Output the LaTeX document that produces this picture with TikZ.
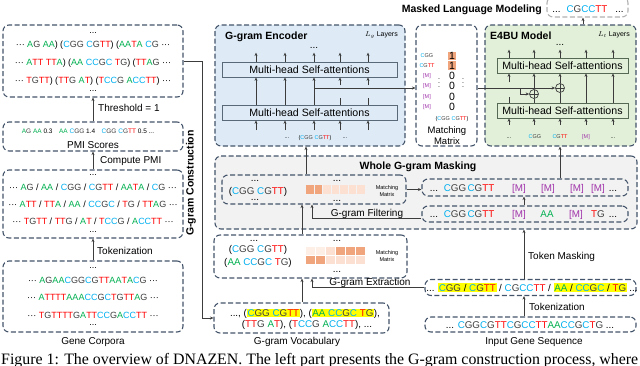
\documentclass[tikz,border=0pt]{standalone}
\usepackage{fontspec}
\setmainfont{Liberation Sans}
\newfontfamily\capfont{Liberation Serif}
\usepackage{graphicx}
\usetikzlibrary{arrows.meta,positioning,calc}

\definecolor{BoxLine}{RGB}{68,84,106}
\definecolor{ArrLine}{RGB}{60,60,60}
\definecolor{EncFill}{RGB}{222,235,247}
\definecolor{EncLine}{RGB}{90,105,120}
\definecolor{EfbFill}{RGB}{226,240,217}
\definecolor{EfbLine}{RGB}{85,105,85}
\definecolor{MaskFill}{RGB}{242,242,242}
\definecolor{NucA}{RGB}{0,176,80}
\definecolor{NucC}{RGB}{0,176,240}
\definecolor{NucG}{RGB}{64,64,64}
\definecolor{NucT}{RGB}{255,0,0}
\definecolor{MaskTok}{RGB}{160,50,170}
\definecolor{MatDark}{RGB}{240,165,125}
\definecolor{MatLight}{RGB}{252,225,210}
\definecolor{MatPale}{RGB}{253,238,230}
\definecolor{HlYellow}{RGB}{255,255,0}

\makeatletter
\newcommand{\seqc}[1]{\seqc@loop#1\@nil}
\def\seqc@loop#1{\ifx#1\@nil\else\seqc@one#1\expandafter\seqc@loop\fi}
\def\seqc@one#1{\ifx#1A\textcolor{NucA}{A}\else\ifx#1C\textcolor{NucC}{C}\else\ifx#1T\textcolor{NucT}{T}\else\ifx#1G\textcolor{NucG}{G}\else#1\fi\fi\fi\fi}
\makeatother
\newcommand{\middots}{\textperiodcentered\textperiodcentered\textperiodcentered}
\newcommand{\mtok}{\textcolor{MaskTok}{[M]}}
\newcommand{\yhl}[1]{{\setlength{\fboxsep}{0.6pt}\colorbox{HlYellow}{#1}}}

\begin{document}
\begin{tikzpicture}[x=1pt, y=-1pt,
    gbox/.style={draw=BoxLine, line width=1.1pt, dash pattern=on 5pt off 2.5pt,
        rounded corners=6pt, fill=white, inner sep=0pt},
    mhsa/.style={line width=0.8pt, inner sep=0pt, minimum height=15pt,
        font=\fontsize{10.6}{12}\selectfont},
    arr/.style={draw=ArrLine, line width=0.8pt, -{Stealth[length=3.5pt,width=3pt]}},
    ln/.style={draw=ArrLine, line width=0.8pt},
    addop/.style={circle, draw=ArrLine, line width=0.7pt, fill=EfbFill, minimum size=9pt, inner sep=0pt,
        path picture={\draw[ArrLine, line width=0.6pt] (path picture bounding box.north) -- (path picture bounding box.south)
            (path picture bounding box.west) -- (path picture bounding box.east);}},
    sq/.style={font=\fontsize{9}{10}\selectfont, anchor=base, inner sep=0pt},
    lbl/.style={font=\fontsize{10}{12}\selectfont, anchor=base, inner sep=0pt},
    ttl/.style={font=\fontsize{10.5}{12}\selectfont\bfseries, anchor=base, inner sep=0pt},
    tny/.style={font=\fontsize{5.5}{6}\selectfont, anchor=base, inner sep=0pt},
    tok/.style={font=\fontsize{9.8}{11}\selectfont, anchor=base, inner sep=0pt},
    num/.style={font=\fontsize{10.5}{12}\selectfont, inner sep=0.4pt, text height=7.4pt,
        text depth=0pt, minimum width=8pt},
]
\useasboundingbox (0,0) rectangle (640,365);

% ---- left: G-gram construction
\node[gbox, minimum width=180pt, minimum height=72pt] (gramTok) at (93,61) {};
\node[sq] (gt0) at (93,33) {...};
\node[sq] (gt1) at (93,47) {\middots{} \seqc{AG} \seqc{AA}) (\seqc{CGG} \seqc{CGTT}) (\seqc{AATA} \seqc{CG} \middots};
\node[sq] (gt2) at (93,65) {\middots{} \seqc{ATT} \seqc{TTA}) (\seqc{AA} \seqc{CCGC} \seqc{TG}) (\seqc{TTAG} \middots};
\node[sq] (gt3) at (93,83) {\middots{} \seqc{TGTT}) (\seqc{TTG} \seqc{AT}) (\seqc{TCCG} \seqc{ACCTT}) \middots};
\node[sq] (gt4) at (93,91) {...};

\node[gbox, minimum width=180pt, minimum height=29pt] (pmiBox) at (93,136.5) {};
\node[font=\fontsize{6.5}{7}\selectfont, anchor=base, inner sep=0pt] (pmiVals) at (88,133.5)
    {\seqc{AG} \seqc{AA} 0.3\quad \seqc{AA} \seqc{CGG} 1.4\quad \seqc{CGG} \seqc{CGTT} 0.5 ...};
\node[lbl] (pmiName) at (93,148.5) {PMI Scores};
\draw[arr] (pmiBox.north) -- (gramTok.south);
\node[lbl, anchor=base west] (thrTxt) at (98,111.5) {Threshold = 1};

\node[gbox, minimum width=180pt, minimum height=68pt] (corpTok) at (93,204) {};
\node[sq] (ct0) at (93,175) {...};
\node[sq] (ct1) at (93,190) {\middots{} \seqc{AG} / \seqc{AA} / \seqc{CGG} / \seqc{CGTT} / \seqc{AATA} / \seqc{CG} \middots};
\node[sq] (ct2) at (93,207) {\middots{} \seqc{ATT} / \seqc{TTA} / \seqc{AA} / \seqc{CCGC} / \seqc{TG} / \seqc{TTAG} \middots};
\node[sq] (ct3) at (93,224) {\middots{} \seqc{TGTT} / \seqc{TTG} / \seqc{AT} / \seqc{TCCG} / \seqc{ACCTT} \middots};
\node[sq] (ct4) at (93,232) {...};
\draw[arr] (corpTok.north) -- (pmiBox.south);
\node[lbl, anchor=base west] (pmiTxt) at (100,163.5) {Compute PMI};

\node[gbox, minimum width=180pt, minimum height=71pt] (corpus) at (93,296.5) {};
\node[sq] (cp0) at (93,268) {...};
\node[sq] (cp1) at (93,283) {\middots{} \seqc{AGAACGGCGTTAATACG} \middots};
\node[sq] (cp2) at (93,300) {\middots{} \seqc{ATTTTAAACCGCTGTTAG} \middots};
\node[sq] (cp3) at (93,318) {\middots{} \seqc{TGTTTTGATTCCGACCTT} \middots};
\node[sq] (cp4) at (93,325) {...};
\draw[arr] (corpus.north) -- (corpTok.south);
\node[lbl, anchor=base west] (tokTxtL) at (97,254.5) {Tokenization};
\node[lbl] (corpName) at (93,344.5) {Gene Corpora};

\node[ttl, anchor=center, rotate=90] (gcName) at (191,183) {G-gram Construction};

% ---- G-gram encoder
\node[gbox, fill=EncFill, minimum width=190pt, minimum height=121pt] (encBox) at (310,85.5) {};
\node[ttl, anchor=base west] (encName) at (225,39) {G-gram Encoder};
\node[font=\fontsize{7}{8}\selectfont, anchor=base east, inner sep=0pt] (encLay) at (398,36.5) {$L_g$ Layers};
\node[mhsa, draw=EncLine, fill=EncFill, minimum width=175pt] (encUp) at (309.5,69.5) {Multi-head Self-attentions};
\node[mhsa, draw=EncLine, fill=EncFill, minimum width=175pt] (encLow) at (309.5,112.5) {Multi-head Self-attentions};
\node[lbl] (encDots) at (314,48) {...};
\foreach \cx [count=\i] in {256,285,314,340,368}{
    \coordinate (ec\i) at (\cx,130);
    \draw[arr] (ec\i) -- (ec\i |- encLow.south);
    \draw[arr] (ec\i |- encUp.north) -- ++(0,-9);
}
\foreach \i in {1,2,3} \draw[arr] (ec\i |- encLow.north) -- (ec\i |- encUp.south);
\foreach \i in {4,5}{
    \draw[ln] (ec\i |- encLow.north) -- ++(0,-7);
    \draw[arr] ($(ec\i |- encUp.south)+(0,8)$) -- (ec\i |- encUp.south);
}
\node[tny] (encIn1) at (287,138) {...};
\node[tny] (encIn2) at (315,139) {(\seqc{CGG} \seqc{CGTT})};
\node[tny] (encIn3) at (345,138) {...};

% ---- matching matrix
\node[gbox, minimum width=61pt, minimum height=121pt] (matBox) at (446.5,85.5) {};
\foreach \ry/\rt [count=\j] in {56/{\seqc{CGG}},65.5/{\seqc{CGTT}}}{
    \node[tny, anchor=center] (mrowA\j) at (427,\ry) {\rt};
    \node[num, fill=MatDark] (mone\j) at (452,\ry) {1};
}
\foreach \ry [count=\j] in {76,86,97,107}{
    \node[tny, anchor=center] (mrowB\j) at (427,\ry) {\mtok};
    \node[num] (mzero\j) at (452,\ry) {0};
}
\node[inner sep=0pt, font=\fontsize{7}{8}\selectfont] (mvd1) at (439,80) {$\vdots$};
\node[inner sep=0pt, font=\fontsize{7}{8}\selectfont] (mvd2) at (463,80) {$\vdots$};
\node[tny] (matIn) at (452,120) {(\seqc{CGG} \seqc{CGTT})};
\node[lbl, font=\fontsize{9.5}{11}\selectfont] (matName1) at (447,133.5) {Matching};
\node[lbl, font=\fontsize{9.5}{11}\selectfont] (matName2) at (447,144.5) {Matrix};
\coordinate (tapY) at (0,88);
\draw[arr] (ec3 |- tapY) -- (matBox.west |- tapY);

% ---- E4BU model
\node[gbox, fill=EfbFill, minimum width=151pt, minimum height=121pt] (efbBox) at (560.5,85.5) {};
\node[ttl, anchor=base west] (efbName) at (490,39) {E4BU Model};
\node[font=\fontsize{7}{8}\selectfont, anchor=base east, inner sep=0pt] (efbLay) at (630,36.5) {$L_t$ Layers};
\node[mhsa, draw=EfbLine, fill=EfbFill, minimum width=131pt] (efbUp) at (562.5,65.5) {Multi-head Self-attentions};
\node[mhsa, draw=EfbLine, fill=EfbFill, minimum width=131pt] (efbLow) at (562.5,110.5) {Multi-head Self-attentions};
\node[lbl] (efbDots) at (560,45) {...};
\foreach \cx [count=\i] in {509,534,560,586,613}{
    \coordinate (tc\i) at (\cx,125);
    \draw[arr] (tc\i) -- (tc\i |- efbLow.south);
    \draw[arr] (tc\i |- efbUp.north) -- ++(0,-8);
}
\foreach \i in {4,5} \draw[arr] (tc\i |- efbLow.north) -- (tc\i |- efbUp.south);
\draw[ln] (tc1 |- efbLow.north) -- ++(0,-6);
\draw[arr] ($(tc1 |- efbUp.south)+(0,9)$) -- (tc1 |- efbUp.south);
\node[addop] (add2) at (534,94) {};
\node[addop] (add3) at (560,88) {};
\draw[ln] (tc2 |- efbLow.north) -- (add2.south);
\draw[arr] (add2.north) -- (tc2 |- efbUp.south);
\draw[ln] (tc3 |- efbLow.north) -- (add3.south);
\draw[arr] (add3.north) -- (tc3 |- efbUp.south);
\coordinate (fork) at (520,88);
\draw[arr] (matBox.east |- tapY) -- (add3.west);
\draw[arr] (fork) |- (add2.west);
\node[tny] (efbIn1) at (509,138) {...};
\node[tny] (efbIn2) at (535,138) {\seqc{CGG}};
\node[tny] (efbIn3) at (560,138) {\seqc{CGTT}};
\node[tny] (efbIn4) at (586,138) {\mtok};
\node[tny] (efbIn5) at (613,138) {...};

% ---- masked language modeling
\node[gbox, draw=gray!60, minimum width=81pt, minimum height=20pt] (mlmBox) at (587.5,7) {};
\node[tok] (mlmTxt) at (588,12.5) {...\hspace{6pt}\seqc{CGCCTT}\hspace{8pt}...};
\node[ttl, anchor=base east] (mlmName) at (542,12.5) {Masked Language Modeling};
\coordinate (mlmTap) at (583,0);
\draw[arr] (efbBox.north -| mlmTap) -- (mlmBox.south -| mlmTap);

% ---- whole G-gram masking
\node[gbox, fill=MaskFill, minimum width=422pt, minimum height=73pt] (wgmBox) at (426,192.5) {};
\node[ttl] (wgmName) at (418,169) {Whole G-gram Masking};
\node[gbox, fill=MaskFill, minimum width=184pt, minimum height=29pt] (filtBox) at (314,189.5) {};
\node[lbl] (ft0) at (255,181) {...};
\node[tok] (ft1) at (258,194.5) {(\seqc{CGG} \seqc{CGTT})};
\node[lbl] (ft2) at (255,200) {...};
\foreach \k in {0,1} \fill[MatDark] (306+\k*8.5,185) rectangle ++(7.5,9);
\foreach \k in {2,...,6} \fill[MatLight] (306+\k*8.5,185) rectangle ++(7.5,9);
\node[lbl] (ft3) at (337,181) {...};
\node[lbl] (ft4) at (337,201) {...};
\node[tny] (ft5) at (387,189) {Matching};
\node[tny] (ft6) at (387,196) {Matrix};

\node[gbox, fill=MaskFill, minimum width=206pt, minimum height=17pt] (maskUp) at (525,187.5) {};
\node[tok] (mu1) at (434,191) {...};
\node[tok] (mu2) at (455,191) {\seqc{CGG}};
\node[tok] (mu3) at (481,191) {\seqc{CGTT}};
\node[tok] (mu4) at (519,191) {\mtok};
\node[tok] (mu5) at (548,191) {\mtok};
\node[tok] (mu6) at (577,191) {\mtok};
\node[tok] (mu7) at (598,191) {\mtok};
\node[tok] (mu8) at (613,191) {...};

\node[gbox, fill=MaskFill, minimum width=206pt, minimum height=16pt] (maskLow) at (525,214) {};
\node[tok] (ml1) at (434,217.5) {...};
\node[tok] (ml2) at (455,217.5) {\seqc{CGG}};
\node[tok] (ml3) at (481,217.5) {\seqc{CGTT}};
\node[tok] (ml4) at (519,217.5) {\mtok};
\node[tok] (ml5) at (547,217.5) {\seqc{AA}};
\node[tok] (ml6) at (576,217.5) {\mtok};
\node[tok] (ml7) at (598,217.5) {\seqc{TG}};
\node[tok] (ml8) at (613,217.5) {...};

% ---- G-gram extraction and vocabulary
\node[gbox, minimum width=193pt, minimum height=43pt] (extrBox) at (310.5,256.5) {};
\node[lbl] (et0) at (254,241) {...};
\node[tok] (et1) at (258,252.5) {(\seqc{CGG} \seqc{CGTT})};
\node[tok] (et2) at (258,265.5) {(\seqc{AA} \seqc{CCGC} \seqc{TG})};
\foreach \k/\cc in {0/MatPale,1/MatPale,2/MatLight,3/MatDark,4/MatDark,5/MatDark}
    \fill[\cc] (306+\k*10,247) rectangle ++(9,7.5);
\foreach \k/\cc in {0/MatDark,1/MatDark,2/MatLight,3/MatLight,4/MatLight,5/MatLight}
    \fill[\cc] (306+\k*10,256) rectangle ++(9,7.5);
\node[lbl] (et3) at (337,241) {...};
\node[lbl] (et4) at (337,272) {...};
\node[tny] (et5) at (387,254) {Matching};
\node[tny] (et6) at (387,261) {Matrix};

\node[gbox, minimum width=175pt, minimum height=30pt] (vocab) at (301.5,318) {};
\node[tok] (voc1) at (305,316.5) {..., (\yhl{\seqc{CGG} \seqc{CGTT}}), (\yhl{\seqc{AA} \seqc{CCGC} \seqc{TG}}),};
\node[tok] (voc2) at (307,327.5) {(\seqc{TTG} \seqc{AT}), (\seqc{TCCG} \seqc{ACCTT}), ...};
\node[lbl] (vocName) at (297,344.5) {G-gram Vocabulary};

% ---- input gene sequence
\node[gbox, minimum width=211pt, minimum height=16pt] (tokIn) at (530.5,287.5) {};
\node[tok] (tokInTxt) at (532,291) {... \yhl{\seqc{CGG} / \seqc{CGTT}} / \seqc{CGCCTT} / \yhl{\seqc{AA} / \seqc{CCGC} / \seqc{TG}} ...};
\node[gbox, minimum width=211pt, minimum height=15pt] (seqIn) at (530.5,324.5) {};
\node[tok] (seqInTxt) at (530,328) {... \seqc{CGGCGTTCGCCTTAACCGCTG} ...};
\node[lbl] (seqName) at (534,344.5) {Input Gene Sequence};

% ---- connectors
\draw[arr] (gramTok.east) -- (gramTok.east -| 202,0) |- (vocab.west);
\coordinate (tmTap) at (524,0);
\coordinate (midTap) at (302,0);
\coordinate (encTap) at (306,0);
\coordinate (sideTap) at (312,0);
\draw[arr] (seqIn.north -| tmTap) -- (tokIn.south -| tmTap);
\node[lbl, anchor=base west] (tokTxtR) at (529,310.5) {Tokenization};
\draw[arr] (tokIn.north -| tmTap) -- (wgmBox.south -| tmTap);
\node[lbl, anchor=base west] (tmTxt) at (528,259.5) {Token Masking};
\draw[arr] (maskLow.north -| tmTap) -- (maskUp.south -| tmTap);
\draw[arr] (maskUp.north -| tc3) -- (efbBox.south -| tc3);
\draw[arr] (filtBox.east) -- (filtBox.east -| maskUp.west);
\draw[arr] (vocab.north -| midTap) -- (extrBox.south -| midTap);
\draw[arr] (extrBox.north -| midTap) -- (filtBox.south -| midTap);
\draw[arr] (filtBox.north -| encTap) -- (encBox.south -| encTap);
\draw[arr] ([yshift=-4pt]maskLow.west) -| (filtBox.south -| sideTap);
\node[lbl] (filtTxt) at (367,216) {G-gram Filtering};
\draw[arr] (tokIn.west) -| (extrBox.south -| sideTap);
\node[lbl] (extrTxt) at (370,285.5) {G-gram Extraction};

% ---- caption
\node[anchor=base west, inner sep=0pt] (capTxt) at (1,364.5)
    {\resizebox{637pt}{!}{\capfont Figure 1: The overview of DNAZEN. The left part presents the G-gram construction process, where}};
\end{tikzpicture}
\end{document}
